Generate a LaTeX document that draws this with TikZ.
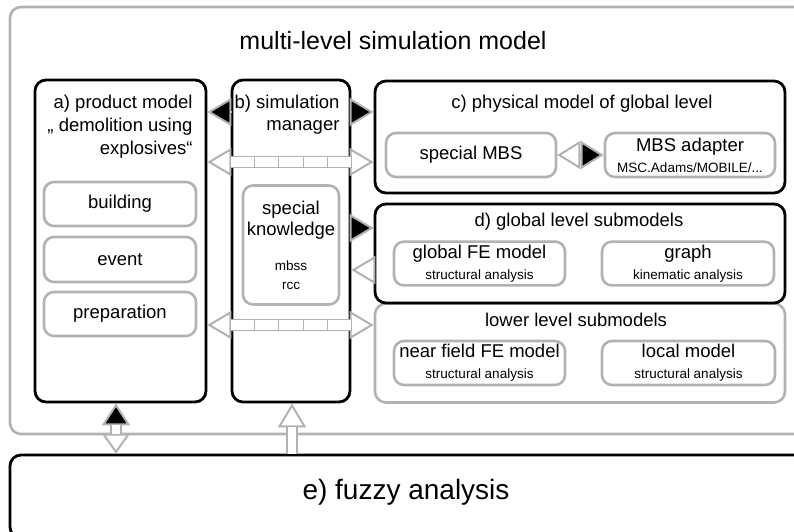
\documentclass[tikz,border=0pt]{standalone}
\usepackage{fontspec}
\setmainfont{Liberation Sans}
\usetikzlibrary{arrows.meta,calc,positioning}

\definecolor{boxgray}{RGB}{178,178,178}
\newcommand{\bigfont}{\fontsize{18.5}{21}\selectfont}
\newcommand{\smallfont}{\fontsize{13.5}{16}\selectfont}

\begin{document}
\begin{tikzpicture}[
        x=1pt, y=-1pt,
        main box/.style = {rectangle, draw=black, line width=2.8pt, rounded corners=11pt},
        frame box/.style = {rectangle, draw=boxgray, line width=2.6pt, rounded corners=11pt},
        sub box/.style = {rectangle, draw=boxgray, line width=2.6pt, rounded corners=10pt, align=center, font=\bigfont},
        solid head/.style = {draw=boxgray, line width=2pt, -{Triangle[length=24pt, width=28pt, fill=black]}},
        open head/.style = {draw=boxgray, line width=2pt, -{Triangle[length=24pt, width=28pt, fill=white]}},
        bus bar/.style = {rectangle, draw=boxgray, fill=white, line width=1.6pt, minimum width=121pt, minimum height=11pt},
        shaft/.style = {draw=boxgray, line width=1.8pt, double=white, double distance=8pt},
        ]
        \clip (0,0) rectangle (794,531);

        % outer frame
        \node[frame box, minimum width=820pt, minimum height=427pt] (frame) at (420,220.5) {};
        \node[font=\fontsize{25}{30}\selectfont] (title) at (393,41) {multi-level simulation model};

        % a) and b)
        \node[main box, minimum width=171pt, minimum height=322pt] (prod) at (120.5,241) {};
        \node[align=right, anchor=east, font=\fontsize{18.5}{23}\selectfont] (prodlbl) at (196,127) {a) product model\\„ demolition using\\explosives“};
        \node[sub box, minimum width=152pt, minimum height=44pt] (bldg) at (120,204) {building};
        \node[sub box, minimum width=152pt, minimum height=45pt] (event) at (120,259.5) {event};
        \node[sub box, minimum width=152pt, minimum height=44pt] (prep) at (120,314) {preparation};

        \node[main box, minimum width=118pt, minimum height=322pt] (mgr) at (291,241) {};
        \node[align=right, anchor=east, font=\fontsize{18.5}{22}\selectfont] (mgrlbl) at (343,115) {b) simulation\\manager};
        \node[sub box, minimum width=96pt, minimum height=119pt] (know) at (291,245) {special\\knowledge\\[14pt]\smallfont mbss\\[-2pt]\smallfont rcc};

        % c) physical model
        \node[main box, minimum width=410pt, minimum height=112pt] (phys) at (580,137) {};
        \node[font=\bigfont] (physlbl) at (582,104) {c) physical model of global level};
        \node[sub box, minimum width=170pt, minimum height=44pt] (smbs) at (471,155) {special MBS};
        \node[sub box, minimum width=170pt, minimum height=44pt] (adapter) at (690,155) {MBS adapter\\\smallfont MSC.Adams/MOBILE/...};

        % lower level and d) global level
        \node[frame box, minimum width=410pt, minimum height=99pt] (lower) at (580,353) {};
        \node[font=\bigfont] (lowerlbl) at (576,320) {lower level submodels};
        \node[sub box, minimum width=171pt, minimum height=44pt] (nearfe) at (479.5,363) {near field FE model\\\smallfont structural analysis};
        \node[sub box, minimum width=173pt, minimum height=44pt] (local) at (688.5,363) {local model\\\smallfont structural analysis};

        \node[main box, minimum width=410pt, minimum height=99pt] (glob) at (580,253.5) {};
        \node[font=\bigfont] (globlbl) at (579,222) {d) global level submodels};
        \node[sub box, minimum width=171pt, minimum height=43pt] (globfe) at (479.5,263.5) {global FE model\\\smallfont structural analysis};
        \node[sub box, minimum width=172pt, minimum height=43pt] (graph) at (688,263.5) {graph\\\smallfont kinematic analysis};

        % e) fuzzy analysis
        \node[main box, minimum width=820pt, minimum height=83pt] (fuzzy) at (420,496.5) {};
        \node[font=\fontsize{28}{32}\selectfont] (fuzzylbl) at (406,492) {e) fuzzy analysis};

        % rows and columns of the connectors
        \coordinate (rowA) at (0,112);
        \coordinate (rowC) at (0,228);
        \coordinate (rowD) at (0,270);
        \coordinate (colA) at (116,0);
        \coordinate (colB) at (292,0);

        % connectors of the simulation manager
        \draw[solid head] (mgr.west |- rowA) -- (prod.east |- rowA);
        \draw[solid head] (mgr.east |- rowA) -- (phys.west |- rowA);
        \draw[solid head] (mgr.east |- rowC) -- (glob.west |- rowC);
        \draw[open head] (glob.west |- rowD) -- (mgr.east |- rowD);

        \node[bus bar] (busA) at (291,162) {};
        \node[bus bar] (busB) at (291,325) {};
        \draw[open head] (busA.west) -- (prod.east |- busA.west);
        \draw[open head] (busA.east) -- (phys.west |- busA.east);
        \draw[open head] (busB.west) -- (prod.east |- busB.west);
        \draw[open head] (busB.east) -- (lower.west |- busB.east);
        \node[bus bar] at (busA) {};
        \node[bus bar] at (busB) {};
        \foreach \b in {busA, busB}
            \foreach \i in {1,...,4}
                \draw[boxgray, line width=1.2pt] ($(\b.north west)!\i/5!(\b.north east)$) -- ($(\b.south west)!\i/5!(\b.south east)$);

        % MBS coupling
        \draw[draw=boxgray, line width=2pt, {Triangle[length=23pt, width=28pt, fill=white]}-{Triangle[length=23pt, width=28pt, fill=black]}] (smbs.east) -- (adapter.west);

        % fuzzy analysis connectors
        \draw[draw=boxgray, line width=2pt, {Triangle[length=22pt, width=28pt, fill=black]}-{Triangle[length=20pt, width=28pt, fill=white]}] (prod.south -| colA) -- (fuzzy.north -| colA);
        \draw[shaft, shorten <=22pt, shorten >=20pt] (prod.south -| colA) -- (fuzzy.north -| colA);
        \draw[open head] (fuzzy.north -| colB) -- (mgr.south -| colB);
        \draw[shaft, shorten >=24pt] (fuzzy.north -| colB) -- (mgr.south -| colB);
    \end{tikzpicture}
\end{document}
